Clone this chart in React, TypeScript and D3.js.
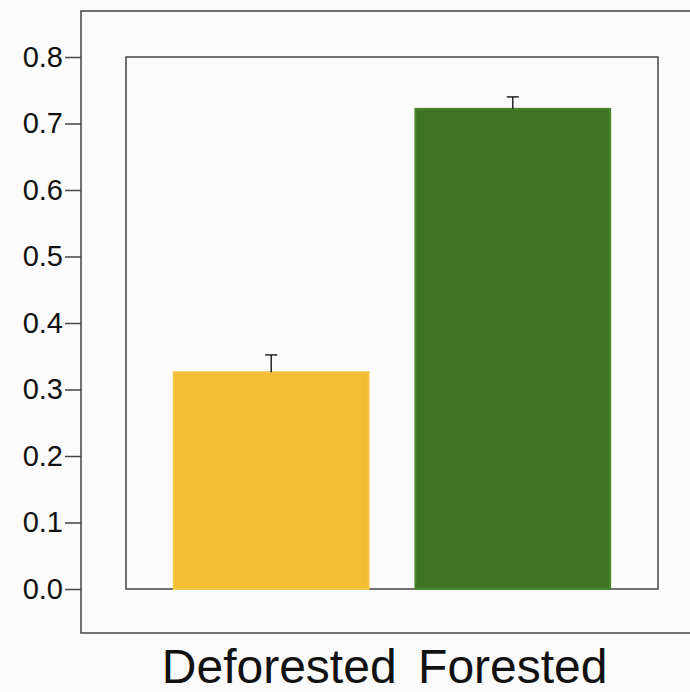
import React, { useEffect, useRef } from 'react';
import * as d3 from 'd3';

const categories = ['Deforested', 'Forested'];
const means = [0.326, 0.722];
const errUpper = [0.352, 0.740];
const yTicks = [0.0, 0.1, 0.2, 0.3, 0.4, 0.5, 0.6, 0.7, 0.8];
const barColors = ['#f4be33', '#3e7322'];
const barStrokes = ['#f6c543', '#4a8529'];

const App = () => {
  const svgRef = useRef<SVGSVGElement>(null);

  useEffect(() => {
    const svg = d3.select(svgRef.current);
    svg.selectAll('*').remove();

    const width = 690;
    const height = 692;
    const inner = { left: 126, right: 658, top: 57, bottom: 589 };

    svg.append('rect').attr('width', width).attr('height', height).attr('fill', '#fbfbfb');

    const y = d3.scaleLinear().domain([0, 0.8]).range([inner.bottom, inner.top]);
    const x = d3.scaleBand()
      .domain(categories)
      .range([inner.left, inner.right])
      .paddingInner(0.194)
      .paddingOuter(0.198);

    // outer frame (open on the right)
    svg.append('path')
      .attr('d', `M${width + 2},11 H81 V633 H${width + 2}`)
      .attr('fill', 'none')
      .attr('stroke', '#444')
      .attr('stroke-width', 1.5);

    // inner box
    svg.append('rect')
      .attr('x', inner.left)
      .attr('y', inner.top)
      .attr('width', inner.right - inner.left)
      .attr('height', inner.bottom - inner.top)
      .attr('fill', 'none')
      .attr('stroke', '#444')
      .attr('stroke-width', 1.5);

    // y axis
    const yAxis = svg.append('g')
      .attr('transform', 'translate(81,0)')
      .call(d3.axisLeft(y).tickValues(yTicks).tickFormat(d3.format('.1f')).tickSize(16).tickPadding(2));
    yAxis.select('.domain').remove();
    yAxis.selectAll('line').attr('stroke', '#444').attr('stroke-width', 1.5);
    yAxis.selectAll('text')
      .attr('font-family', 'Liberation Sans, Arial, sans-serif')
      .attr('font-size', 29)
      .attr('fill', '#111');

    // bars
    svg.append('g')
      .selectAll('rect')
      .data(categories)
      .enter().append('rect')
        .attr('x', d => x(d)!)
        .attr('y', (d, i) => y(means[i]))
        .attr('width', x.bandwidth())
        .attr('height', (d, i) => y(0) - y(means[i]))
        .attr('fill', (d, i) => barColors[i])
        .attr('stroke', (d, i) => barStrokes[i])
        .attr('stroke-width', 2);

    // error bars
    const eb = svg.append('g').attr('stroke', '#222').attr('stroke-width', 1.5);
    categories.forEach((c, i) => {
      const cx = x(c)! + x.bandwidth() / 2;
      eb.append('line').attr('x1', cx).attr('x2', cx).attr('y1', y(means[i])).attr('y2', y(errUpper[i]));
      eb.append('line').attr('x1', cx - 6).attr('x2', cx + 6).attr('y1', y(errUpper[i])).attr('y2', y(errUpper[i]));
    });

    // category labels
    const labelShift = [8, 0];
    svg.append('g')
      .selectAll('text')
      .data(categories)
      .enter().append('text')
        .attr('x', (d, i) => x(d)! + x.bandwidth() / 2 + labelShift[i])
        .attr('y', 683)
        .attr('text-anchor', 'middle')
        .attr('font-family', 'Liberation Sans, Arial, sans-serif')
        .attr('font-size', 48)
        .attr('fill', '#111')
        .text(d => d);
  }, []);

  return (
    <svg
      ref={svgRef}
      width={690}
      height={692}
      style={{ position: 'absolute', left: 0, top: 0, display: 'block' }}
    ></svg>
  );
};

export default App;
